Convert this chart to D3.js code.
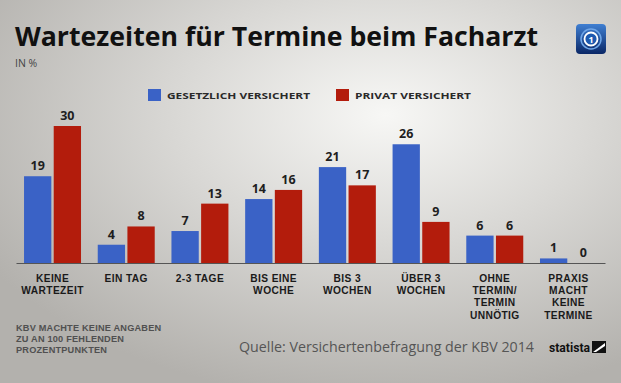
<!DOCTYPE html>
<html>
<head>
<meta charset="utf-8">
<script src="https://cdn.jsdelivr.net/npm/d3@7"></script>
<style>
  html, body { margin: 0; padding: 0; background: #c8c7c4; }
  svg { display: block; }
</style>
</head>
<body>
<div id="chart"></div>
<script>
// data (in %)
const categories = [
  ["KEINE", "WARTEZEIT"],
  ["EIN TAG"],
  ["2-3 TAGE"],
  ["BIS EINE", "WOCHE"],
  ["BIS 3", "WOCHEN"],
  ["ÜBER 3", "WOCHEN"],
  ["OHNE", "TERMIN/", "TERMIN", "UNNÖTIG"],
  ["PRAXIS", "MACHT", "KEINE", "TERMINE"]
];
const gesetzlich = [19, 4, 7, 14, 21, 26, 6, 1];
const privat = [30, 8, 13, 16, 17, 9, 6, 0];
const seriesNames = ["GESETZLICH VERSICHERT", "PRIVAT VERSICHERT"];
const footnoteLines = ["KBV MACHTE KEINE ANGABEN", "ZU AN 100 FEHLENDEN", "PROZENTPUNKTEN"];

const W = 621, H = 383;
const colors = ["#3a62c6", "#b31c0c"];

const svg = d3.select("#chart").append("svg")
    .attr("width", W)
    .attr("height", H);

const defs = svg.append("defs");
const bg = defs.append("radialGradient")
    .attr("id", "bg")
    .attr("cx", "0.62").attr("cy", "0.3").attr("r", "0.75");
bg.append("stop").attr("offset", "0").attr("stop-color", "#f7f7f5");
bg.append("stop").attr("offset", "0.45").attr("stop-color", "#d9d8d5");
bg.append("stop").attr("offset", "1").attr("stop-color", "#b3b1ad");

const logoGrad = defs.append("linearGradient")
    .attr("id", "logo").attr("x1", 0).attr("y1", 0).attr("x2", 0).attr("y2", 1);
logoGrad.append("stop").attr("offset", 0).attr("stop-color", "#3f7fd2");
logoGrad.append("stop").attr("offset", 1).attr("stop-color", "#0a2766");

svg.append("rect").attr("width", W).attr("height", H).attr("fill", "url(#bg)");

// stretch a text to a measured width
function fit(sel, w) {
    sel.each(function() {
        const len = this.getComputedTextLength();
        if (Math.abs(len - w) > 1) {
            d3.select(this).attr("textLength", w).attr("lengthAdjust", "spacingAndGlyphs");
        }
    });
}

// title
svg.append("text")
    .attr("x", 15).attr("y", 46)
    .attr("font-family", "Open Sans")
    .attr("font-weight", "bold")
    .attr("font-size", "27px")
    .attr("fill", "#111")
    .text("Wartezeiten für Termine beim Facharzt")
    .call(fit, 523);

svg.append("text")
    .attr("x", 15).attr("y", 67)
    .attr("font-family", "Open Sans")
    .attr("font-size", "10.5px")
    .attr("fill", "#444")
    .text("IN %");

// logo
const logo = svg.append("g").attr("transform", "translate(576,24)");
logo.append("rect").attr("width", 30).attr("height", 30).attr("rx", 4)
    .attr("fill", "url(#logo)");
logo.append("circle").attr("cx", 15).attr("cy", 15).attr("r", 10)
    .attr("fill", "none").attr("stroke", "#6fa6e8").attr("stroke-width", 1.5);
logo.append("circle").attr("cx", 15).attr("cy", 15).attr("r", 6.5)
    .attr("fill", "#1e5ab0").attr("stroke", "#fff").attr("stroke-width", 1.8);
logo.append("text").attr("x", 15).attr("y", 18.5)
    .attr("text-anchor", "middle")
    .attr("font-family", "Open Sans").attr("font-weight", "bold")
    .attr("font-size", "9px").attr("fill", "#fff").text("1");

// legend
const legendX = [148, 336];
const legendW = [143, 116];
seriesNames.forEach((name, i) => {
    svg.append("rect")
        .attr("x", legendX[i]).attr("y", 89)
        .attr("width", 13).attr("height", 12)
        .attr("fill", colors[i]);
    svg.append("text")
        .attr("x", legendX[i] + 19).attr("y", 99)
        .attr("font-family", "Open Sans")
        .attr("font-weight", "bold")
        .attr("font-size", "9.5px")
        .attr("fill", "#2a2a2a")
        .text(name)
        .call(fit, legendW[i]);
});

// scales
const x = d3.scaleBand()
    .domain(d3.range(categories.length))
    .range([16, 605])
    .paddingInner(0.227)
    .paddingOuter(0.109);

const xs = d3.scaleBand()
    .domain([0, 1])
    .range([0, x.bandwidth()])
    .paddingInner(0.08);

const y = d3.scaleLinear()
    .domain([0, 30])
    .range([263, 126]);

const rows = categories.map((c, i) => ({ i, values: [gesetzlich[i], privat[i]] }));

const groups = svg.selectAll("g.grp")
    .data(rows)
    .enter().append("g")
    .attr("class", "grp")
    .attr("transform", d => "translate(" + x(d.i) + ",0)");

groups.selectAll("rect")
    .data(d => d.values.map((v, k) => ({ v, k })))
    .enter().append("rect")
    .attr("x", d => xs(d.k))
    .attr("y", d => y(d.v))
    .attr("width", xs.bandwidth())
    .attr("height", d => y(0) - y(d.v))
    .attr("fill", d => colors[d.k]);

groups.selectAll("text.val")
    .data(d => d.values.map((v, k) => ({ v, k })))
    .enter().append("text")
    .attr("class", "val")
    .attr("x", d => xs(d.k) + xs.bandwidth() / 2)
    .attr("y", d => y(d.v) - 6)
    .attr("text-anchor", "middle")
    .attr("font-family", "Open Sans")
    .attr("font-weight", "bold")
    .attr("font-size", "12.5px")
    .attr("fill", "#1e1e1e")
    .text(d => d.v);

// x axis: baseline only, labels drawn as multi-line text
const axis = svg.append("g")
    .attr("transform", "translate(0," + y(0) + ")")
    .call(d3.axisBottom(x).tickSize(0).tickSizeOuter(0).tickFormat(""));
axis.select(".domain").attr("stroke", "#555").attr("stroke-width", 1.2);

groups.append("text")
    .attr("x", x.bandwidth() / 2)
    .attr("y", 282)
    .attr("text-anchor", "middle")
    .attr("font-family", "Liberation Sans")
    .attr("font-weight", "bold")
    .attr("font-size", "10.2px")
    .attr("letter-spacing", "0.4px")
    .attr("fill", "#1a1a1a")
    .selectAll("tspan")
    .data(d => categories[d.i])
    .enter().append("tspan")
    .attr("x", x.bandwidth() / 2)
    .attr("dy", (d, j) => j === 0 ? 0 : 12.2)
    .text(d => d);

// footnote
svg.append("text")
    .attr("x", 16).attr("y", 331)
    .attr("font-family", "Liberation Sans")
    .attr("font-weight", "bold")
    .attr("font-size", "9.2px")
    .attr("letter-spacing", "0.2px")
    .attr("fill", "#505050")
    .selectAll("tspan")
    .data(footnoteLines)
    .enter().append("tspan")
    .attr("x", 16)
    .attr("dy", (d, j) => j === 0 ? 0 : 11)
    .text(d => d);

// source
svg.append("text")
    .attr("x", 239).attr("y", 352)
    .attr("font-family", "Open Sans")
    .attr("font-size", "15px")
    .attr("fill", "#555")
    .text("Quelle: Versichertenbefragung der KBV 2014")
    .call(fit, 295);

svg.append("text")
    .attr("x", 549).attr("y", 352)
    .attr("font-family", "Roboto")
    .attr("font-weight", "bold")
    .attr("font-size", "13px")
    .attr("fill", "#111")
    .text("statista")
    .call(fit, 41);

const st = svg.append("g").attr("transform", "translate(592,341)");
st.append("rect").attr("width", 14).attr("height", 12).attr("fill", "#111");
st.append("path").attr("d", "M1,11 L13,2 L13,5 L4,11 Z").attr("fill", "#fff");
</script>
</body>
</html>
